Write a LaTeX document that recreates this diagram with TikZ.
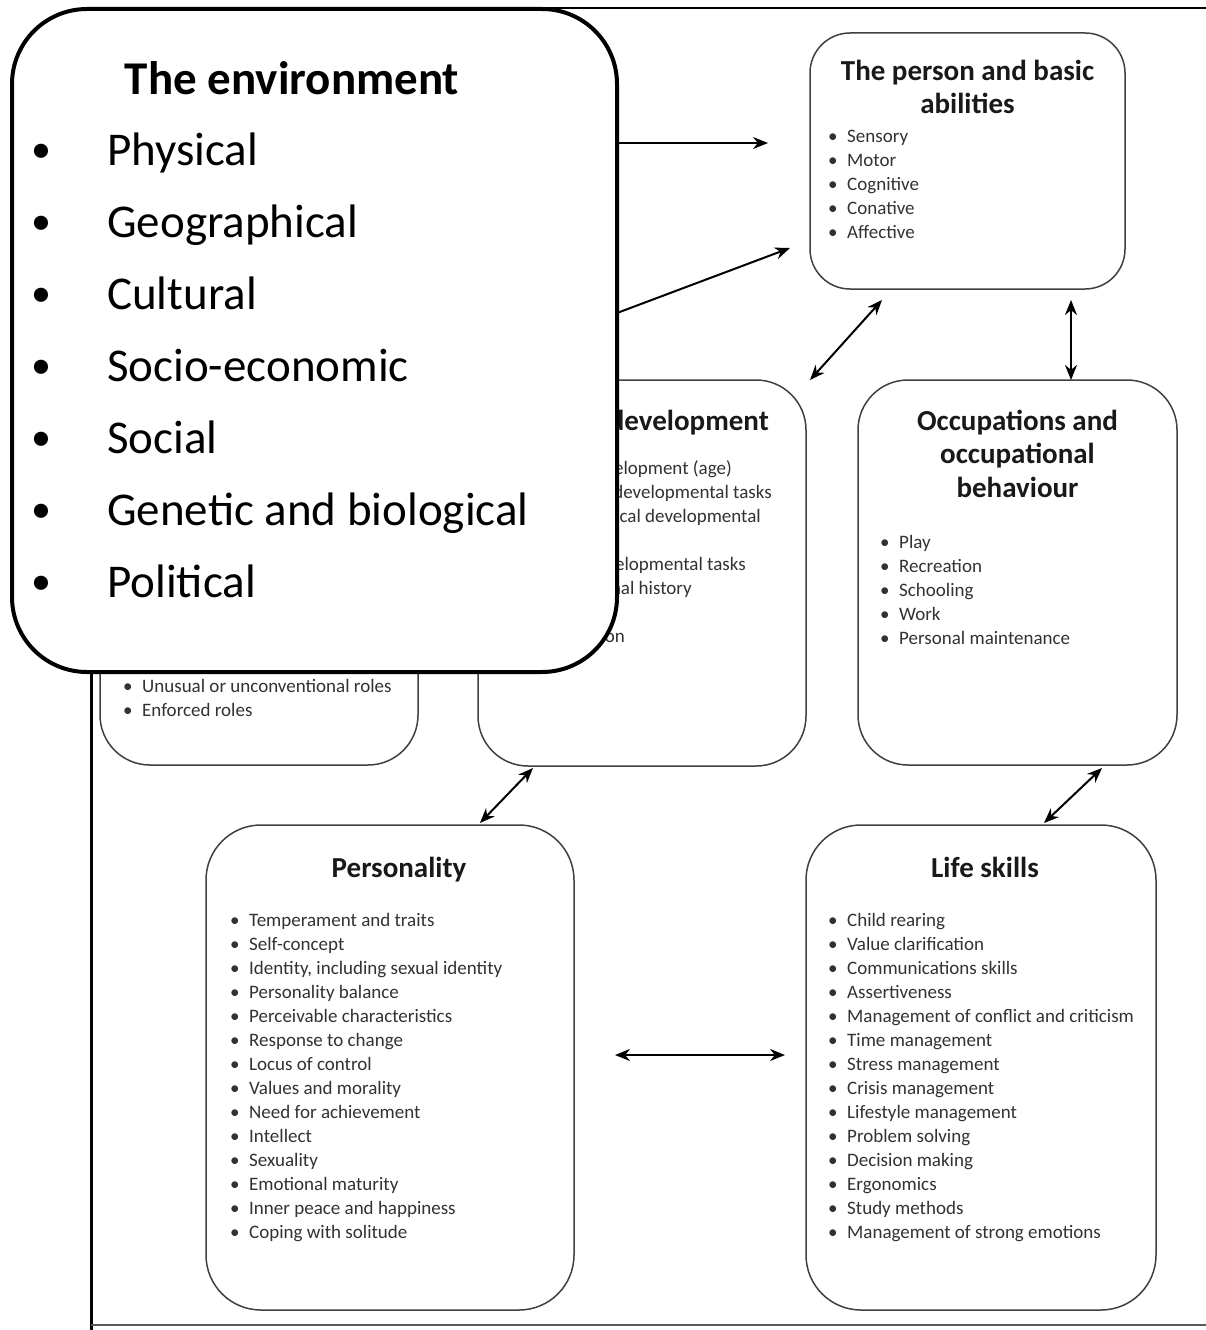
\documentclass[tikz,border=0pt]{standalone}
\usepackage{fontspec}
\setmainfont{Carlito}
\usepackage{tikz}
\usetikzlibrary{arrows.meta,positioning}
\definecolor{boxgray}{RGB}{64,64,64}
\definecolor{itemgray}{RGB}{50,50,50}
\definecolor{titleblack}{RGB}{25,25,25}
\definecolor{framegray}{RGB}{90,90,90}
\tikzstyle{factorbox} = [rectangle, rounded corners=50pt, draw=boxgray, line width=1.5pt, fill=white, inner sep=0pt, outer sep=0pt]
\tikzstyle{envbox} = [rectangle, rounded corners=75pt, draw=black, line width=4pt, fill=white, inner sep=0pt, outer sep=0pt]
\tikzstyle{factortitle} = [font=\fontsize{29}{33.5}\selectfont\bfseries, align=center, inner sep=0pt, text=titleblack]
\tikzstyle{factoritems} = [font=\fontsize{19}{24}\selectfont, align=left, inner sep=0pt, text=itemgray]
\tikzstyle{envtitle} = [font=\fontsize{47}{50}\selectfont\bfseries, inner sep=0pt, text=black]
\tikzstyle{envitems} = [font=\fontsize{47}{72}\selectfont, align=left, inner sep=0pt, text=black]
\tikzstyle{flow} = [line width=2pt, -{Stealth[length=15pt,width=12pt]}, color=black]
\tikzstyle{link} = [line width=2pt, {Stealth[length=15pt,width=12pt]}-{Stealth[length=15pt,width=12pt]}, color=black]
\newcommand{\itm}[1]{\makebox[19pt][l]{•}#1}
\newcommand{\envitm}[1]{\makebox[76pt][l]{\raisebox{2.5pt}{\fontsize{40}{40}\selectfont•}}#1}
\newcommand{\fstrut}[1]{\rule{0pt}{#1}}

\begin{document}
\begin{tikzpicture}[x=1pt, y=-1pt]
\useasboundingbox (0,0) rectangle (1206,1330);

% Frame
\draw[line width=3pt] (91,8) -- (91,1330);
\draw[line width=2pt] (91,8) -- (1206,8);
\draw[line width=2.5pt, framegray] (91,1325) -- (1206,1325);

% Boxes
\node (person) [factorbox, rounded corners=40pt, minimum width=315pt, minimum height=256pt] at (967.5,161) {};
\node (roles) [factorbox, minimum width=318pt, minimum height=385pt] at (259,572.5) {};
\node (dev) [factorbox, minimum width=328pt, minimum height=386pt] at (642,573) {};
\node (occ) [factorbox, minimum width=319pt, minimum height=385pt] at (1017.5,572.5) {};
\node (pers) [factorbox, rounded corners=55pt, minimum width=368pt, minimum height=485pt] at (390,1067.5) {};
\node (life) [factorbox, rounded corners=55pt, minimum width=350pt, minimum height=485pt] at (981,1067.5) {};

% Titles
\node (persontitle) [factortitle, below=23pt of person.north] {\fstrut{24pt}The person and basic\\abilities};
\node (occtitle) [factortitle, below=26pt of occ.north] {\fstrut{24pt}Occupations and\\occupational\\behaviour};
\node (devtitle) [factortitle, anchor=north east] at (769,406) {\fstrut{24pt}development};
\node (perstitle) [factortitle, below=28pt of pers.north, xshift=9pt] {\fstrut{24pt}Personality};
\node (lifetitle) [factortitle, below=28pt of life.north, xshift=4pt] {\fstrut{24pt}Life skills};

% Lists
\node (personlist) [factoritems, below right=91pt and 18pt of person.north west] {\fstrut{18pt}\itm{Sensory}\\\itm{Motor}\\\itm{Cognitive}\\\itm{Conative}\\\itm{Affective}};
\node (occlist) [factoritems, below right=150.5pt and 22pt of occ.north west] {\fstrut{18pt}\itm{Play}\\\itm{Recreation}\\\itm{Schooling}\\\itm{Work}\\\itm{Personal maintenance}};
\node (roleslist) [factoritems, below right=294.5pt and 23pt of roles.north west] {\fstrut{18pt}\itm{Unusual or unconventional roles}\\\itm{Enforced roles}};
\node (perslist) [factoritems, below right=83.5pt and 24pt of pers.north west] {\fstrut{18pt}\itm{Temperament and traits}\\\itm{Self-concept}\\\itm{Identity, including sexual identity}\\\itm{Personality balance}\\\itm{Perceivable characteristics}\\\itm{Response to change}\\\itm{Locus of control}\\\itm{Values and morality}\\\itm{Need for achievement}\\\itm{Intellect}\\\itm{Sexuality}\\\itm{Emotional maturity}\\\itm{Inner peace and happiness}\\\itm{Coping with solitude}};
\node (lifelist) [factoritems, below right=83.5pt and 22pt of life.north west] {\fstrut{18pt}\itm{Child rearing}\\\itm{Value clarification}\\\itm{Communications skills}\\\itm{Assertiveness}\\\itm{Management of conflict and criticism}\\\itm{Time management}\\\itm{Stress management}\\\itm{Crisis management}\\\itm{Lifestyle management}\\\itm{Problem solving}\\\itm{Decision making}\\\itm{Ergonomics}\\\itm{Study methods}\\\itm{Management of strong emotions}};

% Development lines (left part lies under the environment box)
\node (dev1) [factoritems, anchor=base east] at (732,474.5) {development (age)};
\node (dev2) [factoritems, anchor=base east] at (772,498.5) {developmental tasks};
\node (dev3) [factoritems, anchor=base east] at (761,522.5) {Critical developmental};
\node (dev4) [factoritems, anchor=base east] at (746,570.5) {Developmental tasks};
\node (dev5) [factoritems, anchor=base east] at (692,594.5) {Personal history};
\node (dev6) [factoritems, anchor=base east] at (625,642.5) {Motivation};

% The environment (on top)
\node (env) [envbox, minimum width=605pt, minimum height=663pt] at (314.5,340.5) {};
\node (envhead) [envtitle, below=45pt of env.north, xshift=-22.5pt] {\fstrut{40pt}The environment};
\node (envlist) [envitems, below right=111pt and 19pt of env.north west] {\fstrut{45pt}\envitm{Physical}\\\envitm{Geographical}\\\envitm{Cultural}\\\envitm{Socio-economic}\\\envitm{Social}\\\envitm{Genetic and biological}\\\envitm{Political}};

% Arrows
\draw[flow] ([yshift=197.5pt]env.east) -- ([xshift=-42pt,yshift=18pt]person.west);
\draw[flow] ([yshift=27.5pt]env.east) -- ([xshift=-20pt,yshift=-87pt]person.west);
\draw[link] ([xshift=-85.5pt,yshift=-11pt]person.south) -- ([xshift=4pt]dev.north east);
\draw[link] ([xshift=103.5pt,yshift=-11pt]person.south) -- ([xshift=53.5pt]occ.north);
\draw[link] ([xshift=-109pt,yshift=-2pt]dev.south) -- ([xshift=90pt,yshift=2pt]pers.north);
\draw[link] ([xshift=84.5pt,yshift=-3pt]occ.south) -- ([xshift=63pt,yshift=2pt]life.north);
\draw[link] ([xshift=41pt,yshift=12.5pt]pers.east) -- ([xshift=-21pt,yshift=12.5pt]life.west);
\end{tikzpicture}
\end{document}
